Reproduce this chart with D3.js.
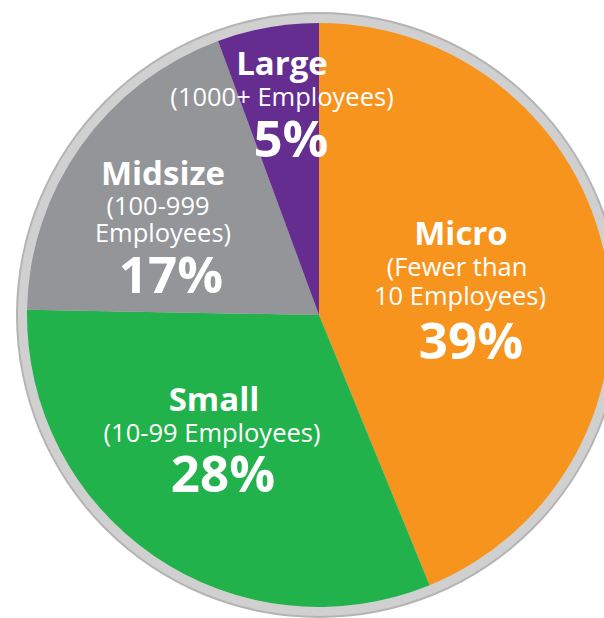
<!DOCTYPE html>
<html>
<head>
<meta charset="utf-8">
<script src="https://cdn.jsdelivr.net/npm/d3@7"></script>
<style>
  html, body { margin: 0; padding: 0; background: #ffffff; }
  svg { display: block; }
</style>
</head>
<body>
<svg id="chart" width="604" height="618"></svg>
<script>
// ---- data ----
const categories = ["Micro", "Small", "Midsize", "Large"];
const subtitles  = [["(Fewer than", "10 Employees)"], ["(10-99 Employees)"], ["(100-999", "Employees)"], ["(1000+ Employees)"]];
const values     = [39, 28, 17, 5];
const percentLabels = ["39%", "28%", "17%", "5%"];
const colors     = ["#F7941E", "#22B24C", "#939598", "#662D91"];

// ---- layout (label anchors relative to pie centre, text-line baselines) ----
const labelAnchors = [[142, -70], [-105, 96], [-156, -130], [-37, -240]];
const lineLayouts = [
  { title: [0, 0], subs: [[-4, 31], [-1, 60]], pct: [10, 114] },
  { title: [0, 0], subs: [[-2, 31]], pct: [9, 81] },
  { title: [0, 0], subs: [[-5, 30], [0, 57]], pct: [8, 108] },
  { title: [0, 0], subs: [[0, 31]], pct: [9, 82] }
];

const W = 604, H = 618;
const cx = 319, cy = 315, R = 292;
const svg = d3.select("#chart");
const g = svg.append("g").attr("transform", `translate(${cx},${cy})`);

// outer ring
g.append("circle").attr("r", R + 11).attr("fill", "#b4b4b4");
g.append("circle").attr("r", R + 9).attr("fill", "#d0d0d0");

const pie = d3.pie().sort(null).value(d => d);
const arcs = pie(values);
const arc = d3.arc().innerRadius(0).outerRadius(R);

g.selectAll("path.slice")
  .data(arcs)
  .join("path")
  .attr("class", "slice")
  .attr("d", arc)
  .attr("fill", (d, i) => colors[i]);

const font = "'Open Sans', 'Noto Sans', sans-serif";
categories.forEach((cat, i) => {
  const [ax, ay] = labelAnchors[i];
  const L = lineLayouts[i];
  const lg = g.append("g").attr("transform", `translate(${ax},${ay})`)
    .attr("fill", "#ffffff").attr("text-anchor", "middle").style("font-family", font);
  lg.append("text").attr("x", L.title[0]).attr("y", L.title[1])
    .style("font-size", "33px").style("font-weight", 700).text(cat);
  subtitles[i].forEach((s, j) => {
    lg.append("text").attr("x", L.subs[j][0]).attr("y", L.subs[j][1])
      .style("font-size", "25.5px").style("font-weight", 400).text(s);
  });
  lg.append("text").attr("x", L.pct[0]).attr("y", L.pct[1])
    .style("font-size", "51px").style("font-weight", 700).text(percentLabels[i]);
});
</script>
</body>
</html>
